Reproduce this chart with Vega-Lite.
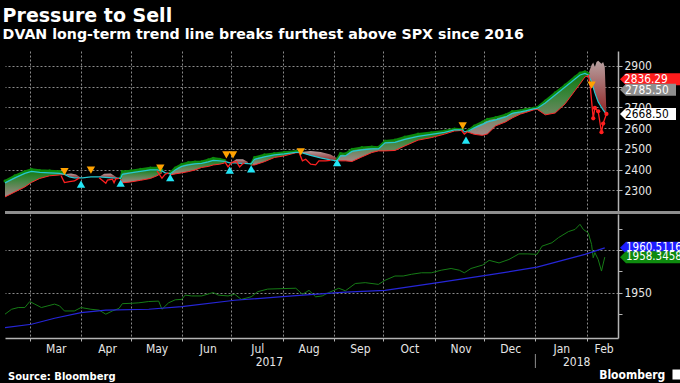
{
  "$schema": "https://vega.github.io/schema/vega-lite/v6.json",
  "background": "#000000",
  "padding": {"left": 0, "top": 6, "right": 0, "bottom": 0},
  "title": {
    "text": "Pressure to Sell",
    "subtitle": "DVAN long-term trend line breaks furthest above SPX since 2016",
    "anchor": "start", "dx": 2, "offset": 9,
    "font": "DejaVu Sans", "fontSize": 19, "fontWeight": "bold", "color": "#ffffff",
    "subtitleFont": "DejaVu Sans", "subtitleFontSize": 14.2, "subtitleFontWeight": "bold", "subtitleColor": "#ffffff",
    "subtitlePadding": 2
  },
  "datasets": {
    "bands": [
      {"date":"2017-02-14","seg":"b1","kind":"bull","hi":2345,"lo":2268},
      {"date":"2017-02-20","seg":"b1","kind":"bull","hi":2370,"lo":2292},
      {"date":"2017-02-26","seg":"b1","kind":"bull","hi":2391,"lo":2316},
      {"date":"2017-03-02","seg":"b1","kind":"bull","hi":2401,"lo":2338},
      {"date":"2017-03-07","seg":"b1","kind":"bull","hi":2396,"lo":2357},
      {"date":"2017-03-13","seg":"b1","kind":"bull","hi":2394,"lo":2370},
      {"date":"2017-03-19","seg":"b1","kind":"bull","hi":2391,"lo":2374},
      {"date":"2017-03-22","seg":"b1","kind":"bull","hi":2381,"lo":2376},
      {"date":"2017-03-23","seg":"r1","kind":"bear","hi":2378,"lo":2376},
      {"date":"2017-03-26","seg":"r1","kind":"bear","hi":2381,"lo":2362},
      {"date":"2017-03-29","seg":"r1","kind":"bear","hi":2376,"lo":2359},
      {"date":"2017-04-01","seg":"r1","kind":"bear","hi":2361,"lo":2359},
      {"date":"2017-04-12","seg":"r2","kind":"bear","hi":2365,"lo":2364},
      {"date":"2017-04-15","seg":"r2","kind":"bear","hi":2380,"lo":2363},
      {"date":"2017-04-19","seg":"r2","kind":"bear","hi":2381,"lo":2360},
      {"date":"2017-04-23","seg":"r2","kind":"bear","hi":2360,"lo":2358},
      {"date":"2017-04-25","seg":"b2","kind":"bull","hi":2360,"lo":2355},
      {"date":"2017-04-26","seg":"b2","kind":"bull","hi":2391,"lo":2336},
      {"date":"2017-05-01","seg":"b2","kind":"bull","hi":2394,"lo":2340},
      {"date":"2017-05-07","seg":"b2","kind":"bull","hi":2401,"lo":2348},
      {"date":"2017-05-13","seg":"b2","kind":"bull","hi":2408,"lo":2357},
      {"date":"2017-05-17","seg":"b2","kind":"bull","hi":2408,"lo":2370},
      {"date":"2017-05-20","seg":"b2","kind":"bull","hi":2398,"lo":2384},
      {"date":"2017-05-25","seg":"b3","kind":"bull","hi":2384,"lo":2374},
      {"date":"2017-05-28","seg":"b3","kind":"bull","hi":2408,"lo":2379},
      {"date":"2017-06-01","seg":"b3","kind":"bull","hi":2426,"lo":2384},
      {"date":"2017-06-05","seg":"b3","kind":"bull","hi":2434,"lo":2390},
      {"date":"2017-06-09","seg":"b3","kind":"bull","hi":2437,"lo":2398},
      {"date":"2017-06-13","seg":"b3","kind":"bull","hi":2438,"lo":2410},
      {"date":"2017-06-17","seg":"b3","kind":"bull","hi":2447,"lo":2415},
      {"date":"2017-06-20","seg":"b3","kind":"bull","hi":2455,"lo":2422},
      {"date":"2017-06-24","seg":"b3","kind":"bull","hi":2450,"lo":2426},
      {"date":"2017-06-27","seg":"b3","kind":"bull","hi":2444,"lo":2432},
      {"date":"2017-07-01","seg":"r3","kind":"bear","hi":2434,"lo":2432},
      {"date":"2017-07-04","seg":"r3","kind":"bear","hi":2450,"lo":2432},
      {"date":"2017-07-08","seg":"r3","kind":"bear","hi":2450,"lo":2430},
      {"date":"2017-07-11","seg":"r3","kind":"bear","hi":2437,"lo":2428},
      {"date":"2017-07-13","seg":"b4","kind":"bull","hi":2427,"lo":2422},
      {"date":"2017-07-15","seg":"b4","kind":"bull","hi":2458,"lo":2422},
      {"date":"2017-07-21","seg":"b4","kind":"bull","hi":2471,"lo":2438},
      {"date":"2017-07-27","seg":"b4","kind":"bull","hi":2477,"lo":2458},
      {"date":"2017-08-02","seg":"b4","kind":"bull","hi":2483,"lo":2466},
      {"date":"2017-08-09","seg":"b4","kind":"bull","hi":2488,"lo":2481},
      {"date":"2017-08-12","seg":"b4","kind":"bull","hi":2485,"lo":2482},
      {"date":"2017-08-12","seg":"r4","kind":"bear","hi":2485,"lo":2482},
      {"date":"2017-08-18","seg":"r4","kind":"bear","hi":2490,"lo":2468},
      {"date":"2017-08-24","seg":"r4","kind":"bear","hi":2485,"lo":2456},
      {"date":"2017-08-30","seg":"r4","kind":"bear","hi":2473,"lo":2447},
      {"date":"2017-09-03","seg":"r4","kind":"bear","hi":2455,"lo":2442},
      {"date":"2017-09-03","seg":"b5","kind":"bull","hi":2451,"lo":2442},
      {"date":"2017-09-05","seg":"b5","kind":"bull","hi":2478,"lo":2442},
      {"date":"2017-09-08","seg":"b5","kind":"bull","hi":2476,"lo":2442},
      {"date":"2017-09-12","seg":"b5","kind":"bull","hi":2498,"lo":2439},
      {"date":"2017-09-18","seg":"b5","kind":"bull","hi":2506,"lo":2461},
      {"date":"2017-09-24","seg":"b5","kind":"bull","hi":2509,"lo":2482},
      {"date":"2017-09-28","seg":"b5","kind":"bull","hi":2507,"lo":2490},
      {"date":"2017-10-02","seg":"b5","kind":"bull","hi":2538,"lo":2490},
      {"date":"2017-10-08","seg":"b5","kind":"bull","hi":2542,"lo":2492},
      {"date":"2017-10-14","seg":"b5","kind":"bull","hi":2557,"lo":2514},
      {"date":"2017-10-22","seg":"b5","kind":"bull","hi":2571,"lo":2542},
      {"date":"2017-10-30","seg":"b5","kind":"bull","hi":2578,"lo":2554},
      {"date":"2017-11-07","seg":"b5","kind":"bull","hi":2586,"lo":2571},
      {"date":"2017-11-13","seg":"b5","kind":"bull","hi":2596,"lo":2586},
      {"date":"2017-11-18","seg":"b5","kind":"bull","hi":2594,"lo":2589},
      {"date":"2017-11-21","seg":"b6","kind":"bull","hi":2586,"lo":2581},
      {"date":"2017-11-25","seg":"b6","kind":"bull","hi":2610,"lo":2570},
      {"date":"2017-11-30","seg":"b6","kind":"bull","hi":2630,"lo":2565},
      {"date":"2017-12-03","seg":"b6","kind":"bull","hi":2643,"lo":2572},
      {"date":"2017-12-08","seg":"b6","kind":"bull","hi":2651,"lo":2611},
      {"date":"2017-12-14","seg":"b6","kind":"bull","hi":2664,"lo":2630},
      {"date":"2017-12-18","seg":"b6","kind":"bull","hi":2680,"lo":2649},
      {"date":"2017-12-23","seg":"b6","kind":"bull","hi":2685,"lo":2668},
      {"date":"2017-12-26","seg":"b6","kind":"bull","hi":2691,"lo":2675},
      {"date":"2017-12-31","seg":"b6","kind":"bull","hi":2697,"lo":2688},
      {"date":"2018-01-02","seg":"b6","kind":"bull","hi":2699,"lo":2691},
      {"date":"2018-01-07","seg":"b6","kind":"bull","hi":2731,"lo":2664},
      {"date":"2018-01-13","seg":"b6","kind":"bull","hi":2770,"lo":2673},
      {"date":"2018-01-19","seg":"b6","kind":"bull","hi":2808,"lo":2717},
      {"date":"2018-01-25","seg":"b6","kind":"bull","hi":2847,"lo":2781},
      {"date":"2018-01-28","seg":"b6","kind":"bull","hi":2866,"lo":2813},
      {"date":"2018-01-31","seg":"b6","kind":"bull","hi":2872,"lo":2847},
      {"date":"2018-02-02","seg":"b6","kind":"bull","hi":2864,"lo":2852},
      {"date":"2018-02-02","seg":"r5","kind":"bear","hi":2860,"lo":2857},
      {"date":"2018-02-04","seg":"r5","kind":"bear","hi":2905,"lo":2823},
      {"date":"2018-02-05","seg":"r5","kind":"bear","hi":2917,"lo":2794},
      {"date":"2018-02-06","seg":"r5","kind":"bear","hi":2895,"lo":2770},
      {"date":"2018-02-07","seg":"r5","kind":"bear","hi":2919,"lo":2746},
      {"date":"2018-02-08","seg":"r5","kind":"bear","hi":2925,"lo":2727},
      {"date":"2018-02-10","seg":"r5","kind":"bear","hi":2910,"lo":2707},
      {"date":"2018-02-11","seg":"r5","kind":"bear","hi":2919,"lo":2688},
      {"date":"2018-02-12","seg":"r5","kind":"bear","hi":2895,"lo":2674},
      {"date":"2018-02-13","seg":"r5","kind":"bear","hi":2670,"lo":2666}
    ],
    "cyan": [
      {"date":"2017-02-14","v":2335.6},{"date":"2017-02-20","v":2359.7},{"date":"2017-02-26","v":2381.4},
      {"date":"2017-03-02","v":2391},{"date":"2017-03-07","v":2386.3},{"date":"2017-03-13","v":2383.9},
      {"date":"2017-03-19","v":2381.4},{"date":"2017-03-22","v":2376.6},{"date":"2017-03-25","v":2364.6},
      {"date":"2017-03-28","v":2359.7},{"date":"2017-04-02","v":2359.7},{"date":"2017-04-07","v":2364.6},
      {"date":"2017-04-12","v":2364.6},{"date":"2017-04-16","v":2362.2},{"date":"2017-04-20","v":2359.7},
      {"date":"2017-04-25","v":2357.4},{"date":"2017-04-26","v":2376.6},{"date":"2017-05-01","v":2383.9},
      {"date":"2017-05-07","v":2391},{"date":"2017-05-13","v":2398.3},{"date":"2017-05-17","v":2398.3},
      {"date":"2017-05-20","v":2393.5},{"date":"2017-05-22","v":2383.9},{"date":"2017-05-25","v":2379},
      {"date":"2017-05-28","v":2398.3},{"date":"2017-06-01","v":2415.2},{"date":"2017-06-05","v":2422.5},
      {"date":"2017-06-09","v":2427.3},{"date":"2017-06-13","v":2429.7},{"date":"2017-06-17","v":2437},
      {"date":"2017-06-20","v":2444.2},{"date":"2017-06-24","v":2441.8},{"date":"2017-06-27","v":2439.4},
      {"date":"2017-06-30","v":2432.1},{"date":"2017-07-03","v":2432.1},{"date":"2017-07-07","v":2429.7},
      {"date":"2017-07-09","v":2429.7},{"date":"2017-07-13","v":2427.3},{"date":"2017-07-15","v":2449},
      {"date":"2017-07-21","v":2461.1},{"date":"2017-07-27","v":2470.7},{"date":"2017-08-02","v":2475.6},
      {"date":"2017-08-09","v":2482.8},{"date":"2017-08-12","v":2482.8},{"date":"2017-08-18","v":2468.3},
      {"date":"2017-08-24","v":2456.2},{"date":"2017-08-30","v":2446.6},{"date":"2017-09-03","v":2441.8},
      {"date":"2017-09-05","v":2465.9},{"date":"2017-09-08","v":2465.9},{"date":"2017-09-12","v":2487.6},
      {"date":"2017-09-18","v":2494.8},{"date":"2017-09-24","v":2499.6},{"date":"2017-09-28","v":2499.6},
      {"date":"2017-10-02","v":2528.6},{"date":"2017-10-08","v":2531},{"date":"2017-10-14","v":2545.5},
      {"date":"2017-10-22","v":2560},{"date":"2017-10-30","v":2569.6},{"date":"2017-11-07","v":2579.2},
      {"date":"2017-11-13","v":2591.3},{"date":"2017-11-18","v":2591.3},{"date":"2017-11-19","v":2581.6},
      {"date":"2017-11-21","v":2584},{"date":"2017-11-25","v":2600.9},{"date":"2017-11-30","v":2617.8},
      {"date":"2017-12-03","v":2629.9},{"date":"2017-12-08","v":2639.5},{"date":"2017-12-14","v":2654},
      {"date":"2017-12-18","v":2670.9},{"date":"2017-12-23","v":2678.1},{"date":"2017-12-26","v":2683},
      {"date":"2017-12-31","v":2692.6},{"date":"2018-01-02","v":2695},{"date":"2018-01-07","v":2721.5},
      {"date":"2018-01-13","v":2760.1},{"date":"2018-01-19","v":2798.7},{"date":"2018-01-25","v":2837.3},
      {"date":"2018-01-28","v":2856.6},{"date":"2018-01-31","v":2863.8},{"date":"2018-02-02","v":2856.6},
      {"date":"2018-02-04","v":2822.8},{"date":"2018-02-06","v":2769.8},{"date":"2018-02-08","v":2726.4},
      {"date":"2018-02-11","v":2687.8},{"date":"2018-02-13","v":2666}
    ],
    "dips": [
      {"date":"2017-03-20","seg":"d1","v":2369.6},{"date":"2017-03-21","seg":"d1","v":2353.5},
      {"date":"2017-03-22","seg":"d1","v":2337},{"date":"2017-03-25","seg":"d1","v":2342},
      {"date":"2017-03-28","seg":"d1","v":2345},{"date":"2017-03-30","seg":"d1","v":2355},
      {"date":"2017-03-31","seg":"d1","v":2360},
      {"date":"2017-04-12","seg":"d2","v":2360},{"date":"2017-04-16","seg":"d2","v":2334},
      {"date":"2017-04-17","seg":"d2","v":2349},{"date":"2017-04-20","seg":"d2","v":2353.5},
      {"date":"2017-04-21","seg":"d2","v":2337},{"date":"2017-04-22","seg":"d2","v":2355},
      {"date":"2017-04-24","seg":"d2","v":2357},
      {"date":"2017-05-17","seg":"d3","v":2393.5},{"date":"2017-05-20","seg":"d3","v":2358},
      {"date":"2017-05-22","seg":"d3","v":2377.6},{"date":"2017-05-24","seg":"d3","v":2384},
      {"date":"2017-06-27","seg":"d4","v":2438},{"date":"2017-06-29","seg":"d4","v":2412.8},
      {"date":"2017-07-01","seg":"d4","v":2433.6},{"date":"2017-07-04","seg":"d4","v":2438},
      {"date":"2017-07-06","seg":"d4","v":2412.8},{"date":"2017-07-08","seg":"d4","v":2428.8},
      {"date":"2017-07-09","seg":"d4","v":2430},
      {"date":"2017-08-11","seg":"d5","v":2482},{"date":"2017-08-13","seg":"d5","v":2442},
      {"date":"2017-08-15","seg":"d5","v":2450},{"date":"2017-08-18","seg":"d5","v":2426},
      {"date":"2017-08-21","seg":"d5","v":2422.5},{"date":"2017-08-23","seg":"d5","v":2442},
      {"date":"2017-08-27","seg":"d5","v":2442},{"date":"2017-08-30","seg":"d5","v":2444},
      {"date":"2017-11-17","seg":"d6","v":2591},{"date":"2017-11-19","seg":"d6","v":2570.6},
      {"date":"2017-11-21","seg":"d6","v":2584},
      {"date":"2018-02-02","seg":"d7","v":2856.6},{"date":"2018-02-03","seg":"d7","v":2819.5},
      {"date":"2018-02-05","seg":"d7","v":2647},{"date":"2018-02-06","seg":"d7","v":2697},
      {"date":"2018-02-08","seg":"d7","v":2681},{"date":"2018-02-10","seg":"d7","v":2580},
      {"date":"2018-02-11","seg":"d7","v":2622},{"date":"2018-02-13","seg":"d7","v":2668.5}
    ],
    "signals": [
      {"date":"2017-03-22","type":"sell","v":2390},
      {"date":"2017-04-07","type":"sell","v":2397},
      {"date":"2017-05-19","type":"sell","v":2406.6},
      {"date":"2017-06-28","type":"sell","v":2470.7},
      {"date":"2017-07-02","type":"sell","v":2470.7},
      {"date":"2017-08-12","type":"sell","v":2485},
      {"date":"2017-11-18","type":"sell","v":2610.6},
      {"date":"2018-02-04","type":"sell","v":2807},
      {"date":"2017-04-01","type":"buy","v":2329.4},
      {"date":"2017-04-25","type":"buy","v":2334.2},
      {"date":"2017-05-25","type":"buy","v":2361},
      {"date":"2017-06-30","type":"buy","v":2397},
      {"date":"2017-07-13","type":"buy","v":2403},
      {"date":"2017-09-03","type":"buy","v":2433.6},
      {"date":"2017-11-20","type":"buy","v":2541.6}
    ],
    "dvan": [
      {"date":"2017-02-14","v":1945.05},{"date":"2017-02-18","v":1946.2},{"date":"2017-02-22","v":1946.6},
      {"date":"2017-02-26","v":1946.6},{"date":"2017-03-01","v":1948.0},{"date":"2017-03-04","v":1947.4},
      {"date":"2017-03-08","v":1946.6},{"date":"2017-03-12","v":1947.0},{"date":"2017-03-16","v":1947.4},
      {"date":"2017-03-19","v":1947.0},{"date":"2017-03-22","v":1945.8},{"date":"2017-03-28","v":1945.8},
      {"date":"2017-04-01","v":1946.6},{"date":"2017-04-07","v":1946.2},{"date":"2017-04-12","v":1946.0},
      {"date":"2017-04-16","v":1945.05},{"date":"2017-04-20","v":1945.8},{"date":"2017-04-24","v":1946.4},
      {"date":"2017-04-26","v":1947.5},{"date":"2017-05-02","v":1947.6},{"date":"2017-05-06","v":1947.7},
      {"date":"2017-05-12","v":1948.0},{"date":"2017-05-18","v":1948.1},{"date":"2017-05-20","v":1946.2},
      {"date":"2017-05-24","v":1947.7},{"date":"2017-05-28","v":1948.4},{"date":"2017-06-01","v":1948.5},
      {"date":"2017-06-03","v":1949.5},{"date":"2017-06-07","v":1949.3},{"date":"2017-06-13","v":1949.3},
      {"date":"2017-06-20","v":1950.1},{"date":"2017-06-23","v":1949.5},{"date":"2017-06-29","v":1949.3},
      {"date":"2017-07-03","v":1949.7},{"date":"2017-07-07","v":1948.5},{"date":"2017-07-13","v":1949.1},
      {"date":"2017-07-17","v":1950.3},{"date":"2017-07-23","v":1950.9},{"date":"2017-07-31","v":1951.0},
      {"date":"2017-08-09","v":1951.1},{"date":"2017-08-13","v":1949.7},{"date":"2017-08-17","v":1950.6},
      {"date":"2017-08-21","v":1949.1},{"date":"2017-08-25","v":1949.3},{"date":"2017-08-29","v":1950.1},
      {"date":"2017-09-04","v":1951.1},{"date":"2017-09-08","v":1950.5},{"date":"2017-09-14","v":1952.2},
      {"date":"2017-09-20","v":1952.4},{"date":"2017-09-28","v":1952.0},{"date":"2017-10-02","v":1952.95},
      {"date":"2017-10-08","v":1953.95},{"date":"2017-10-13","v":1953.95},{"date":"2017-10-18","v":1954.35},
      {"date":"2017-10-24","v":1954.7},{"date":"2017-10-30","v":1954.7},{"date":"2017-11-05","v":1955.3},
      {"date":"2017-11-11","v":1955.7},{"date":"2017-11-16","v":1955.3},{"date":"2017-11-19","v":1954.7},
      {"date":"2017-11-23","v":1955.7},{"date":"2017-11-30","v":1956.5},{"date":"2017-12-04","v":1957.6},
      {"date":"2017-12-10","v":1957.0},{"date":"2017-12-16","v":1957.8},{"date":"2017-12-22","v":1959.1},
      {"date":"2017-12-27","v":1959.1},{"date":"2018-01-02","v":1959.0},{"date":"2018-01-05","v":1960.9},
      {"date":"2018-01-11","v":1961.7},{"date":"2018-01-15","v":1962.9},{"date":"2018-01-21","v":1964.3},
      {"date":"2018-01-25","v":1964.8},{"date":"2018-01-28","v":1966.0},{"date":"2018-01-30","v":1964.8},
      {"date":"2018-02-02","v":1964.0},{"date":"2018-02-04","v":1961.3},{"date":"2018-02-05","v":1958.2},
      {"date":"2018-02-06","v":1959.4},{"date":"2018-02-08","v":1957.8},{"date":"2018-02-10","v":1955.1},
      {"date":"2018-02-12","v":1958.35}
    ],
    "trend": [
      {"date":"2017-02-14","v":1941.9},{"date":"2017-03-02","v":1942.7},{"date":"2017-03-16","v":1944.1},
      {"date":"2017-04-01","v":1945.4},{"date":"2017-04-16","v":1946.0},{"date":"2017-05-12","v":1946.2},
      {"date":"2017-06-01","v":1946.8},{"date":"2017-07-03","v":1948.3},{"date":"2017-08-07","v":1949.3},
      {"date":"2017-09-08","v":1950.2},{"date":"2017-10-02","v":1950.6},{"date":"2017-11-03","v":1952.4},
      {"date":"2017-12-04","v":1954.2},{"date":"2018-01-02","v":1956.0},{"date":"2018-01-31","v":1959.0},
      {"date":"2018-02-12","v":1960.51}
    ],
    "tagsTop": [
      {"label":"2836.29","v":2836.29,"kind":"red"},
      {"label":"2785.50","v":2785.5,"kind":"gray"},
      {"label":"2668.50","v":2668.5,"kind":"white"}
    ],
    "tagsBottom": [
      {"label":"1960.5116","v":1960.5116,"kind":"blue"},
      {"label":"1958.3458","v":1958.3458,"kind":"green"}
    ]
  },
  "spacing": 3,
  "bounds": "flush",
  "vconcat": [
    {
      "width": 613,
      "height": 160,
      "layer": [
        {
          "data": {"name": "bands"},
          "transform": [{"filter": "datum.kind == 'bull'"}],
          "mark": {"type": "area", "opacity": 1, "color": {"gradient": "linear", "x1": 0, "y1": 0, "x2": 0, "y2": 1, "stops": [{"offset": 0, "color": "#0c780c"}, {"offset": 0.4, "color": "#3f863f"}, {"offset": 1, "color": "#a48888"}]}},
          "encoding": {
            "x": {"field": "date", "type": "temporal", "scale": {"type": "utc", "domain": [{"year": 2017, "month": 2, "date": 14, "utc": true}, {"year": 2018, "month": 2, "date": 20, "utc": true}]}, "axis": {"title": null, "orient": "bottom", "grid": true, "labels": false, "ticks": false, "domain": false, "values": [{"year":2017,"month":3,"date":1,"utc":true},{"year":2017,"month":4,"date":1,"utc":true},{"year":2017,"month":5,"date":1,"utc":true},{"year":2017,"month":6,"date":1,"utc":true},{"year":2017,"month":7,"date":1,"utc":true},{"year":2017,"month":8,"date":1,"utc":true},{"year":2017,"month":9,"date":1,"utc":true},{"year":2017,"month":10,"date":1,"utc":true},{"year":2017,"month":11,"date":1,"utc":true},{"year":2017,"month":12,"date":1,"utc":true},{"year":2018,"month":1,"date":1,"utc":true},{"year":2018,"month":2,"date":1,"utc":true}]}},
            "y": {"field": "hi", "type": "quantitative", "scale": {"domain": [2200, 2972], "zero": false, "nice": false}, "axis": {"title": null, "orient": "right", "values": [2200, 2300, 2400, 2500, 2600, 2700, 2800, 2900], "format": "d", "labelExpr": "datum.value == 2200 ? '' : datum.label", "labelOverlap": false, "labelBound": false, "tickSize": 4, "labelPadding": 2, "grid": true, "domain": true, "ticks": true}},
            "y2": {"field": "lo"},
            "detail": {"field": "seg"}
          }
        },
        {
          "data": {"name": "bands"},
          "transform": [{"filter": "datum.kind == 'bear'"}],
          "mark": {"type": "area", "opacity": 1, "color": {"gradient": "linear", "x1": 0, "y1": 0, "x2": 0, "y2": 1, "stops": [{"offset": 0, "color": "#b8a2a2"}, {"offset": 1, "color": "#8e2222"}]}},
          "encoding": {
            "x": {"field": "date", "type": "temporal", "scale": {"type": "utc", "domain": [{"year": 2017, "month": 2, "date": 14, "utc": true}, {"year": 2018, "month": 2, "date": 20, "utc": true}]}, "axis": {"title": null, "orient": "bottom", "grid": true, "labels": false, "ticks": false, "domain": false, "values": [{"year":2017,"month":3,"date":1,"utc":true},{"year":2017,"month":4,"date":1,"utc":true},{"year":2017,"month":5,"date":1,"utc":true},{"year":2017,"month":6,"date":1,"utc":true},{"year":2017,"month":7,"date":1,"utc":true},{"year":2017,"month":8,"date":1,"utc":true},{"year":2017,"month":9,"date":1,"utc":true},{"year":2017,"month":10,"date":1,"utc":true},{"year":2017,"month":11,"date":1,"utc":true},{"year":2017,"month":12,"date":1,"utc":true},{"year":2018,"month":1,"date":1,"utc":true},{"year":2018,"month":2,"date":1,"utc":true}]}},
            "y": {"field": "hi", "type": "quantitative", "scale": {"domain": [2200, 2972], "zero": false, "nice": false}, "axis": {"title": null, "orient": "right", "values": [2200, 2300, 2400, 2500, 2600, 2700, 2800, 2900], "format": "d", "labelExpr": "datum.value == 2200 ? '' : datum.label", "labelOverlap": false, "labelBound": false, "tickSize": 4, "labelPadding": 2, "grid": true, "domain": true, "ticks": true}},
            "y2": {"field": "lo"},
            "detail": {"field": "seg"}
          }
        },
        {
          "data": {"name": "bands"},
          "transform": [{"filter": "datum.kind == 'bull'"}],
          "mark": {"type": "line", "color": "#0b880b", "strokeWidth": 2.2, "point": {"filled": true, "size": 9, "color": "#0b880b"}},
          "encoding": {
            "x": {"field": "date", "type": "temporal", "scale": {"type": "utc", "domain": [{"year": 2017, "month": 2, "date": 14, "utc": true}, {"year": 2018, "month": 2, "date": 20, "utc": true}]}, "axis": {"title": null, "orient": "bottom", "grid": true, "labels": false, "ticks": false, "domain": false, "values": [{"year":2017,"month":3,"date":1,"utc":true},{"year":2017,"month":4,"date":1,"utc":true},{"year":2017,"month":5,"date":1,"utc":true},{"year":2017,"month":6,"date":1,"utc":true},{"year":2017,"month":7,"date":1,"utc":true},{"year":2017,"month":8,"date":1,"utc":true},{"year":2017,"month":9,"date":1,"utc":true},{"year":2017,"month":10,"date":1,"utc":true},{"year":2017,"month":11,"date":1,"utc":true},{"year":2017,"month":12,"date":1,"utc":true},{"year":2018,"month":1,"date":1,"utc":true},{"year":2018,"month":2,"date":1,"utc":true}]}},
            "y": {"field": "hi", "type": "quantitative", "scale": {"domain": [2200, 2972], "zero": false, "nice": false}, "axis": {"title": null, "orient": "right", "values": [2200, 2300, 2400, 2500, 2600, 2700, 2800, 2900], "format": "d", "labelExpr": "datum.value == 2200 ? '' : datum.label", "labelOverlap": false, "labelBound": false, "tickSize": 4, "labelPadding": 2, "grid": true, "domain": true, "ticks": true}},
            "detail": {"field": "seg"}
          }
        },
        {
          "data": {"name": "bands"},
          "transform": [{"filter": "datum.kind == 'bull'"}],
          "mark": {"type": "line", "color": "#ff2a2a", "strokeWidth": 1},
          "encoding": {
            "x": {"field": "date", "type": "temporal", "scale": {"type": "utc", "domain": [{"year": 2017, "month": 2, "date": 14, "utc": true}, {"year": 2018, "month": 2, "date": 20, "utc": true}]}, "axis": {"title": null, "orient": "bottom", "grid": true, "labels": false, "ticks": false, "domain": false, "values": [{"year":2017,"month":3,"date":1,"utc":true},{"year":2017,"month":4,"date":1,"utc":true},{"year":2017,"month":5,"date":1,"utc":true},{"year":2017,"month":6,"date":1,"utc":true},{"year":2017,"month":7,"date":1,"utc":true},{"year":2017,"month":8,"date":1,"utc":true},{"year":2017,"month":9,"date":1,"utc":true},{"year":2017,"month":10,"date":1,"utc":true},{"year":2017,"month":11,"date":1,"utc":true},{"year":2017,"month":12,"date":1,"utc":true},{"year":2018,"month":1,"date":1,"utc":true},{"year":2018,"month":2,"date":1,"utc":true}]}},
            "y": {"field": "lo", "type": "quantitative", "scale": {"domain": [2200, 2972], "zero": false, "nice": false}, "axis": {"title": null, "orient": "right", "values": [2200, 2300, 2400, 2500, 2600, 2700, 2800, 2900], "format": "d", "labelExpr": "datum.value == 2200 ? '' : datum.label", "labelOverlap": false, "labelBound": false, "tickSize": 4, "labelPadding": 2, "grid": true, "domain": true, "ticks": true}},
            "detail": {"field": "seg"}
          }
        },
        {
          "data": {"name": "cyan"},
          "mark": {"type": "line", "color": "#26c8d2", "strokeWidth": 1.2},
          "encoding": {
            "x": {"field": "date", "type": "temporal", "scale": {"type": "utc", "domain": [{"year": 2017, "month": 2, "date": 14, "utc": true}, {"year": 2018, "month": 2, "date": 20, "utc": true}]}, "axis": {"title": null, "orient": "bottom", "grid": true, "labels": false, "ticks": false, "domain": false, "values": [{"year":2017,"month":3,"date":1,"utc":true},{"year":2017,"month":4,"date":1,"utc":true},{"year":2017,"month":5,"date":1,"utc":true},{"year":2017,"month":6,"date":1,"utc":true},{"year":2017,"month":7,"date":1,"utc":true},{"year":2017,"month":8,"date":1,"utc":true},{"year":2017,"month":9,"date":1,"utc":true},{"year":2017,"month":10,"date":1,"utc":true},{"year":2017,"month":11,"date":1,"utc":true},{"year":2017,"month":12,"date":1,"utc":true},{"year":2018,"month":1,"date":1,"utc":true},{"year":2018,"month":2,"date":1,"utc":true}]}},
            "y": {"field": "v", "type": "quantitative", "scale": {"domain": [2200, 2972], "zero": false, "nice": false}, "axis": {"title": null, "orient": "right", "values": [2200, 2300, 2400, 2500, 2600, 2700, 2800, 2900], "format": "d", "labelExpr": "datum.value == 2200 ? '' : datum.label", "labelOverlap": false, "labelBound": false, "tickSize": 4, "labelPadding": 2, "grid": true, "domain": true, "ticks": true}}
          }
        },
        {
          "data": {"name": "dips"},
          "mark": {"type": "line", "color": "#ff2020", "strokeWidth": 1.3},
          "encoding": {
            "x": {"field": "date", "type": "temporal", "scale": {"type": "utc", "domain": [{"year": 2017, "month": 2, "date": 14, "utc": true}, {"year": 2018, "month": 2, "date": 20, "utc": true}]}, "axis": {"title": null, "orient": "bottom", "grid": true, "labels": false, "ticks": false, "domain": false, "values": [{"year":2017,"month":3,"date":1,"utc":true},{"year":2017,"month":4,"date":1,"utc":true},{"year":2017,"month":5,"date":1,"utc":true},{"year":2017,"month":6,"date":1,"utc":true},{"year":2017,"month":7,"date":1,"utc":true},{"year":2017,"month":8,"date":1,"utc":true},{"year":2017,"month":9,"date":1,"utc":true},{"year":2017,"month":10,"date":1,"utc":true},{"year":2017,"month":11,"date":1,"utc":true},{"year":2017,"month":12,"date":1,"utc":true},{"year":2018,"month":1,"date":1,"utc":true},{"year":2018,"month":2,"date":1,"utc":true}]}},
            "y": {"field": "v", "type": "quantitative", "scale": {"domain": [2200, 2972], "zero": false, "nice": false}, "axis": {"title": null, "orient": "right", "values": [2200, 2300, 2400, 2500, 2600, 2700, 2800, 2900], "format": "d", "labelExpr": "datum.value == 2200 ? '' : datum.label", "labelOverlap": false, "labelBound": false, "tickSize": 4, "labelPadding": 2, "grid": true, "domain": true, "ticks": true}},
            "detail": {"field": "seg"}
          }
        },
        {
          "data": {"name": "dips"},
          "transform": [{"filter": "datum.seg == 'd7' && datum.v < 2800"}],
          "mark": {"type": "point", "filled": true, "size": 18, "opacity": 1, "color": "#ff2020"},
          "encoding": {
            "x": {"field": "date", "type": "temporal", "scale": {"type": "utc", "domain": [{"year": 2017, "month": 2, "date": 14, "utc": true}, {"year": 2018, "month": 2, "date": 20, "utc": true}]}, "axis": {"title": null, "orient": "bottom", "grid": true, "labels": false, "ticks": false, "domain": false, "values": [{"year":2017,"month":3,"date":1,"utc":true},{"year":2017,"month":4,"date":1,"utc":true},{"year":2017,"month":5,"date":1,"utc":true},{"year":2017,"month":6,"date":1,"utc":true},{"year":2017,"month":7,"date":1,"utc":true},{"year":2017,"month":8,"date":1,"utc":true},{"year":2017,"month":9,"date":1,"utc":true},{"year":2017,"month":10,"date":1,"utc":true},{"year":2017,"month":11,"date":1,"utc":true},{"year":2017,"month":12,"date":1,"utc":true},{"year":2018,"month":1,"date":1,"utc":true},{"year":2018,"month":2,"date":1,"utc":true}]}},
            "y": {"field": "v", "type": "quantitative", "scale": {"domain": [2200, 2972], "zero": false, "nice": false}, "axis": {"title": null, "orient": "right", "values": [2200, 2300, 2400, 2500, 2600, 2700, 2800, 2900], "format": "d", "labelExpr": "datum.value == 2200 ? '' : datum.label", "labelOverlap": false, "labelBound": false, "tickSize": 4, "labelPadding": 2, "grid": true, "domain": true, "ticks": true}}
          }
        },
        {
          "data": {"name": "signals"},
          "mark": {"type": "point", "filled": true, "size": 70, "opacity": 1},
          "encoding": {
            "x": {"field": "date", "type": "temporal", "scale": {"type": "utc", "domain": [{"year": 2017, "month": 2, "date": 14, "utc": true}, {"year": 2018, "month": 2, "date": 20, "utc": true}]}, "axis": {"title": null, "orient": "bottom", "grid": true, "labels": false, "ticks": false, "domain": false, "values": [{"year":2017,"month":3,"date":1,"utc":true},{"year":2017,"month":4,"date":1,"utc":true},{"year":2017,"month":5,"date":1,"utc":true},{"year":2017,"month":6,"date":1,"utc":true},{"year":2017,"month":7,"date":1,"utc":true},{"year":2017,"month":8,"date":1,"utc":true},{"year":2017,"month":9,"date":1,"utc":true},{"year":2017,"month":10,"date":1,"utc":true},{"year":2017,"month":11,"date":1,"utc":true},{"year":2017,"month":12,"date":1,"utc":true},{"year":2018,"month":1,"date":1,"utc":true},{"year":2018,"month":2,"date":1,"utc":true}]}},
            "y": {"field": "v", "type": "quantitative", "scale": {"domain": [2200, 2972], "zero": false, "nice": false}, "axis": {"title": null, "orient": "right", "values": [2200, 2300, 2400, 2500, 2600, 2700, 2800, 2900], "format": "d", "labelExpr": "datum.value == 2200 ? '' : datum.label", "labelOverlap": false, "labelBound": false, "tickSize": 4, "labelPadding": 2, "grid": true, "domain": true, "ticks": true}},
            "shape": {"condition": {"test": "datum.type == 'sell'", "value": "triangle-down"}, "value": "triangle-up"},
            "color": {"condition": {"test": "datum.type == 'sell'", "value": "#ffa200"}, "value": "#22e6f6"}
          }
        },
        {
          "data": {"name": "tagsTop"},
          "transform": [{"filter": "datum.kind == 'red'"}],
          "mark": {"type": "point", "filled": true, "opacity": 1, "size": 5184, "xOffset": 38, "color": "#ff1c1c", "shape": "M-1,0L-0.833,-0.1667L1,-0.1667L1,0.1667L-0.833,0.1667Z"},
          "encoding": {
            "x": {"datum": {"year": 2018, "month": 2, "date": 20, "utc": true}, "type": "temporal", "scale": {"type": "utc", "domain": [{"year": 2017, "month": 2, "date": 14, "utc": true}, {"year": 2018, "month": 2, "date": 20, "utc": true}]}, "axis": {"title": null, "orient": "bottom", "grid": true, "labels": false, "ticks": false, "domain": false, "values": [{"year":2017,"month":3,"date":1,"utc":true},{"year":2017,"month":4,"date":1,"utc":true},{"year":2017,"month":5,"date":1,"utc":true},{"year":2017,"month":6,"date":1,"utc":true},{"year":2017,"month":7,"date":1,"utc":true},{"year":2017,"month":8,"date":1,"utc":true},{"year":2017,"month":9,"date":1,"utc":true},{"year":2017,"month":10,"date":1,"utc":true},{"year":2017,"month":11,"date":1,"utc":true},{"year":2017,"month":12,"date":1,"utc":true},{"year":2018,"month":1,"date":1,"utc":true},{"year":2018,"month":2,"date":1,"utc":true}]}},
            "y": {"field": "v", "type": "quantitative", "scale": {"domain": [2200, 2972], "zero": false, "nice": false}, "axis": {"title": null, "orient": "right", "values": [2200, 2300, 2400, 2500, 2600, 2700, 2800, 2900], "format": "d", "labelExpr": "datum.value == 2200 ? '' : datum.label", "labelOverlap": false, "labelBound": false, "tickSize": 4, "labelPadding": 2, "grid": true, "domain": true, "ticks": true}}
          }
        },
        {
          "data": {"name": "tagsTop"},
          "transform": [{"filter": "datum.kind == 'red'"}],
          "mark": {"type": "text", "align": "left", "baseline": "middle", "dx": 6, "font": "DejaVu Sans Condensed", "fontSize": 11.8, "color": "#ffffff"},
          "encoding": {
            "x": {"datum": {"year": 2018, "month": 2, "date": 20, "utc": true}, "type": "temporal", "scale": {"type": "utc", "domain": [{"year": 2017, "month": 2, "date": 14, "utc": true}, {"year": 2018, "month": 2, "date": 20, "utc": true}]}, "axis": {"title": null, "orient": "bottom", "grid": true, "labels": false, "ticks": false, "domain": false, "values": [{"year":2017,"month":3,"date":1,"utc":true},{"year":2017,"month":4,"date":1,"utc":true},{"year":2017,"month":5,"date":1,"utc":true},{"year":2017,"month":6,"date":1,"utc":true},{"year":2017,"month":7,"date":1,"utc":true},{"year":2017,"month":8,"date":1,"utc":true},{"year":2017,"month":9,"date":1,"utc":true},{"year":2017,"month":10,"date":1,"utc":true},{"year":2017,"month":11,"date":1,"utc":true},{"year":2017,"month":12,"date":1,"utc":true},{"year":2018,"month":1,"date":1,"utc":true},{"year":2018,"month":2,"date":1,"utc":true}]}},
            "y": {"field": "v", "type": "quantitative", "scale": {"domain": [2200, 2972], "zero": false, "nice": false}, "axis": {"title": null, "orient": "right", "values": [2200, 2300, 2400, 2500, 2600, 2700, 2800, 2900], "format": "d", "labelExpr": "datum.value == 2200 ? '' : datum.label", "labelOverlap": false, "labelBound": false, "tickSize": 4, "labelPadding": 2, "grid": true, "domain": true, "ticks": true}},
            "text": {"field": "label"}
          }
        },
        {
          "data": {"name": "tagsTop"},
          "transform": [{"filter": "datum.kind != 'red'"}],
          "mark": {"type": "point", "filled": true, "opacity": 1, "size": 3136, "xOffset": 30, "shape": "M-1,0L-0.786,-0.2143L1,-0.2143L1,0.2143L-0.786,0.2143Z"},
          "encoding": {
            "x": {"datum": {"year": 2018, "month": 2, "date": 20, "utc": true}, "type": "temporal", "scale": {"type": "utc", "domain": [{"year": 2017, "month": 2, "date": 14, "utc": true}, {"year": 2018, "month": 2, "date": 20, "utc": true}]}, "axis": {"title": null, "orient": "bottom", "grid": true, "labels": false, "ticks": false, "domain": false, "values": [{"year":2017,"month":3,"date":1,"utc":true},{"year":2017,"month":4,"date":1,"utc":true},{"year":2017,"month":5,"date":1,"utc":true},{"year":2017,"month":6,"date":1,"utc":true},{"year":2017,"month":7,"date":1,"utc":true},{"year":2017,"month":8,"date":1,"utc":true},{"year":2017,"month":9,"date":1,"utc":true},{"year":2017,"month":10,"date":1,"utc":true},{"year":2017,"month":11,"date":1,"utc":true},{"year":2017,"month":12,"date":1,"utc":true},{"year":2018,"month":1,"date":1,"utc":true},{"year":2018,"month":2,"date":1,"utc":true}]}},
            "y": {"field": "v", "type": "quantitative", "scale": {"domain": [2200, 2972], "zero": false, "nice": false}, "axis": {"title": null, "orient": "right", "values": [2200, 2300, 2400, 2500, 2600, 2700, 2800, 2900], "format": "d", "labelExpr": "datum.value == 2200 ? '' : datum.label", "labelOverlap": false, "labelBound": false, "tickSize": 4, "labelPadding": 2, "grid": true, "domain": true, "ticks": true}},
            "color": {"condition": {"test": "datum.kind == 'gray'", "value": "#8e8e8e"}, "value": "#ffffff"}
          }
        },
        {
          "data": {"name": "tagsTop"},
          "transform": [{"filter": "datum.kind != 'red'"}],
          "mark": {"type": "text", "align": "left", "baseline": "middle", "dx": 7, "font": "DejaVu Sans Condensed", "fontSize": 11.8},
          "encoding": {
            "x": {"datum": {"year": 2018, "month": 2, "date": 20, "utc": true}, "type": "temporal", "scale": {"type": "utc", "domain": [{"year": 2017, "month": 2, "date": 14, "utc": true}, {"year": 2018, "month": 2, "date": 20, "utc": true}]}, "axis": {"title": null, "orient": "bottom", "grid": true, "labels": false, "ticks": false, "domain": false, "values": [{"year":2017,"month":3,"date":1,"utc":true},{"year":2017,"month":4,"date":1,"utc":true},{"year":2017,"month":5,"date":1,"utc":true},{"year":2017,"month":6,"date":1,"utc":true},{"year":2017,"month":7,"date":1,"utc":true},{"year":2017,"month":8,"date":1,"utc":true},{"year":2017,"month":9,"date":1,"utc":true},{"year":2017,"month":10,"date":1,"utc":true},{"year":2017,"month":11,"date":1,"utc":true},{"year":2017,"month":12,"date":1,"utc":true},{"year":2018,"month":1,"date":1,"utc":true},{"year":2018,"month":2,"date":1,"utc":true}]}},
            "y": {"field": "v", "type": "quantitative", "scale": {"domain": [2200, 2972], "zero": false, "nice": false}, "axis": {"title": null, "orient": "right", "values": [2200, 2300, 2400, 2500, 2600, 2700, 2800, 2900], "format": "d", "labelExpr": "datum.value == 2200 ? '' : datum.label", "labelOverlap": false, "labelBound": false, "tickSize": 4, "labelPadding": 2, "grid": true, "domain": true, "ticks": true}},
            "text": {"field": "label"},
            "color": {"condition": {"test": "datum.kind == 'white'", "value": "#000000"}, "value": "#ffffff"}
          }
        }
      ]
    },
    {
      "width": 613,
      "height": 124,
      "layer": [
        {
          "data": {"name": "dvan"},
          "mark": {"type": "line", "color": "#167c16", "strokeWidth": 1},
          "encoding": {
            "x": {"field": "date", "type": "temporal", "scale": {"type": "utc", "domain": [{"year": 2017, "month": 2, "date": 14, "utc": true}, {"year": 2018, "month": 2, "date": 20, "utc": true}]}, "axis": {"title": null, "orient": "bottom", "grid": true, "domain": true, "ticks": true, "labelExpr": "utcFormat(datum.value, '%b')", "tickSize": 3, "labelPadding": 2, "labelFlush": false, "labelOverlap": false, "labelBound": false, "labelOffset": {"condition": {"test": "utcmonth(datum.value) == 1", "value": 17}, "value": 26}, "values": [{"year":2017,"month":3,"date":1,"utc":true},{"year":2017,"month":4,"date":1,"utc":true},{"year":2017,"month":5,"date":1,"utc":true},{"year":2017,"month":6,"date":1,"utc":true},{"year":2017,"month":7,"date":1,"utc":true},{"year":2017,"month":8,"date":1,"utc":true},{"year":2017,"month":9,"date":1,"utc":true},{"year":2017,"month":10,"date":1,"utc":true},{"year":2017,"month":11,"date":1,"utc":true},{"year":2017,"month":12,"date":1,"utc":true},{"year":2018,"month":1,"date":1,"utc":true},{"year":2018,"month":2,"date":1,"utc":true}]}},
            "y": {"field": "v", "type": "quantitative", "scale": {"domain": [1939.5, 1968.4], "zero": false, "nice": false}, "axis": {"title": null, "orient": "right", "values": [1945, 1950, 1955, 1960, 1965], "format": "d", "labelExpr": "datum.value % 10 == 0 ? datum.label : ''", "labelOverlap": false, "labelBound": false, "tickSize": 4, "labelPadding": 2, "grid": true, "domain": true, "ticks": true, "gridOpacity": {"condition": {"test": "datum.value % 10 == 0", "value": 1}, "value": 0}}}
          }
        },
        {
          "data": {"name": "trend"},
          "mark": {"type": "line", "color": "#2626d8", "strokeWidth": 1.2},
          "encoding": {
            "x": {"field": "date", "type": "temporal", "scale": {"type": "utc", "domain": [{"year": 2017, "month": 2, "date": 14, "utc": true}, {"year": 2018, "month": 2, "date": 20, "utc": true}]}, "axis": {"title": null, "orient": "bottom", "grid": true, "domain": true, "ticks": true, "labelExpr": "utcFormat(datum.value, '%b')", "tickSize": 3, "labelPadding": 2, "labelFlush": false, "labelOverlap": false, "labelBound": false, "labelOffset": {"condition": {"test": "utcmonth(datum.value) == 1", "value": 17}, "value": 26}, "values": [{"year":2017,"month":3,"date":1,"utc":true},{"year":2017,"month":4,"date":1,"utc":true},{"year":2017,"month":5,"date":1,"utc":true},{"year":2017,"month":6,"date":1,"utc":true},{"year":2017,"month":7,"date":1,"utc":true},{"year":2017,"month":8,"date":1,"utc":true},{"year":2017,"month":9,"date":1,"utc":true},{"year":2017,"month":10,"date":1,"utc":true},{"year":2017,"month":11,"date":1,"utc":true},{"year":2017,"month":12,"date":1,"utc":true},{"year":2018,"month":1,"date":1,"utc":true},{"year":2018,"month":2,"date":1,"utc":true}]}},
            "y": {"field": "v", "type": "quantitative", "scale": {"domain": [1939.5, 1968.4], "zero": false, "nice": false}, "axis": {"title": null, "orient": "right", "values": [1945, 1950, 1955, 1960, 1965], "format": "d", "labelExpr": "datum.value % 10 == 0 ? datum.label : ''", "labelOverlap": false, "labelBound": false, "tickSize": 4, "labelPadding": 2, "grid": true, "domain": true, "ticks": true, "gridOpacity": {"condition": {"test": "datum.value % 10 == 0", "value": 1}, "value": 0}}}
          }
        },
        {
          "data": {"name": "tagsBottom"},
          "mark": {"type": "point", "filled": true, "opacity": 1, "size": 4356, "xOffset": 35, "shape": "M-1,0L-0.818,-0.1818L1,-0.1818L1,0.1818L-0.818,0.1818Z"},
          "encoding": {
            "x": {"datum": {"year": 2018, "month": 2, "date": 20, "utc": true}, "type": "temporal", "scale": {"type": "utc", "domain": [{"year": 2017, "month": 2, "date": 14, "utc": true}, {"year": 2018, "month": 2, "date": 20, "utc": true}]}, "axis": {"title": null, "orient": "bottom", "grid": true, "domain": true, "ticks": true, "labelExpr": "utcFormat(datum.value, '%b')", "tickSize": 3, "labelPadding": 2, "labelFlush": false, "labelOverlap": false, "labelBound": false, "labelOffset": {"condition": {"test": "utcmonth(datum.value) == 1", "value": 17}, "value": 26}, "values": [{"year":2017,"month":3,"date":1,"utc":true},{"year":2017,"month":4,"date":1,"utc":true},{"year":2017,"month":5,"date":1,"utc":true},{"year":2017,"month":6,"date":1,"utc":true},{"year":2017,"month":7,"date":1,"utc":true},{"year":2017,"month":8,"date":1,"utc":true},{"year":2017,"month":9,"date":1,"utc":true},{"year":2017,"month":10,"date":1,"utc":true},{"year":2017,"month":11,"date":1,"utc":true},{"year":2017,"month":12,"date":1,"utc":true},{"year":2018,"month":1,"date":1,"utc":true},{"year":2018,"month":2,"date":1,"utc":true}]}},
            "y": {"field": "v", "type": "quantitative", "scale": {"domain": [1939.5, 1968.4], "zero": false, "nice": false}, "axis": {"title": null, "orient": "right", "values": [1945, 1950, 1955, 1960, 1965], "format": "d", "labelExpr": "datum.value % 10 == 0 ? datum.label : ''", "labelOverlap": false, "labelBound": false, "tickSize": 4, "labelPadding": 2, "grid": true, "domain": true, "ticks": true, "gridOpacity": {"condition": {"test": "datum.value % 10 == 0", "value": 1}, "value": 0}}},
            "color": {"condition": {"test": "datum.kind == 'blue'", "value": "#1c1cff"}, "value": "#0e8a0e"}
          }
        },
        {
          "data": {"name": "tagsBottom"},
          "mark": {"type": "text", "align": "left", "baseline": "middle", "dx": 8, "font": "DejaVu Sans Condensed", "fontSize": 11.5, "color": "#ffffff"},
          "encoding": {
            "x": {"datum": {"year": 2018, "month": 2, "date": 20, "utc": true}, "type": "temporal", "scale": {"type": "utc", "domain": [{"year": 2017, "month": 2, "date": 14, "utc": true}, {"year": 2018, "month": 2, "date": 20, "utc": true}]}, "axis": {"title": null, "orient": "bottom", "grid": true, "domain": true, "ticks": true, "labelExpr": "utcFormat(datum.value, '%b')", "tickSize": 3, "labelPadding": 2, "labelFlush": false, "labelOverlap": false, "labelBound": false, "labelOffset": {"condition": {"test": "utcmonth(datum.value) == 1", "value": 17}, "value": 26}, "values": [{"year":2017,"month":3,"date":1,"utc":true},{"year":2017,"month":4,"date":1,"utc":true},{"year":2017,"month":5,"date":1,"utc":true},{"year":2017,"month":6,"date":1,"utc":true},{"year":2017,"month":7,"date":1,"utc":true},{"year":2017,"month":8,"date":1,"utc":true},{"year":2017,"month":9,"date":1,"utc":true},{"year":2017,"month":10,"date":1,"utc":true},{"year":2017,"month":11,"date":1,"utc":true},{"year":2017,"month":12,"date":1,"utc":true},{"year":2018,"month":1,"date":1,"utc":true},{"year":2018,"month":2,"date":1,"utc":true}]}},
            "y": {"field": "v", "type": "quantitative", "scale": {"domain": [1939.5, 1968.4], "zero": false, "nice": false}, "axis": {"title": null, "orient": "right", "values": [1945, 1950, 1955, 1960, 1965], "format": "d", "labelExpr": "datum.value % 10 == 0 ? datum.label : ''", "labelOverlap": false, "labelBound": false, "tickSize": 4, "labelPadding": 2, "grid": true, "domain": true, "ticks": true, "gridOpacity": {"condition": {"test": "datum.value % 10 == 0", "value": 1}, "value": 0}}},
            "text": {"field": "label"}
          }
        },
        {
          "data": {"values": [{}]},
          "mark": {"type": "rule", "color": "#8e8e8e", "strokeWidth": 3, "yOffset": -1.5},
          "encoding": {
            "x": {"datum": {"year": 2017, "month": 2, "date": 14, "utc": true}, "type": "temporal", "scale": {"type": "utc", "domain": [{"year": 2017, "month": 2, "date": 14, "utc": true}, {"year": 2018, "month": 2, "date": 20, "utc": true}]}, "axis": {"title": null, "orient": "bottom", "grid": true, "domain": true, "ticks": true, "labelExpr": "utcFormat(datum.value, '%b')", "tickSize": 3, "labelPadding": 2, "labelFlush": false, "labelOverlap": false, "labelBound": false, "labelOffset": {"condition": {"test": "utcmonth(datum.value) == 1", "value": 17}, "value": 26}, "values": [{"year":2017,"month":3,"date":1,"utc":true},{"year":2017,"month":4,"date":1,"utc":true},{"year":2017,"month":5,"date":1,"utc":true},{"year":2017,"month":6,"date":1,"utc":true},{"year":2017,"month":7,"date":1,"utc":true},{"year":2017,"month":8,"date":1,"utc":true},{"year":2017,"month":9,"date":1,"utc":true},{"year":2017,"month":10,"date":1,"utc":true},{"year":2017,"month":11,"date":1,"utc":true},{"year":2017,"month":12,"date":1,"utc":true},{"year":2018,"month":1,"date":1,"utc":true},{"year":2018,"month":2,"date":1,"utc":true}]}},
            "x2": {"datum": {"year": 2018, "month": 4, "date": 10, "utc": true}},
            "y": {"datum": 1968.4, "type": "quantitative", "scale": {"domain": [1939.5, 1968.4], "zero": false, "nice": false}, "axis": {"title": null, "orient": "right", "values": [1945, 1950, 1955, 1960, 1965], "format": "d", "labelExpr": "datum.value % 10 == 0 ? datum.label : ''", "labelOverlap": false, "labelBound": false, "tickSize": 4, "labelPadding": 2, "grid": true, "domain": true, "ticks": true, "gridOpacity": {"condition": {"test": "datum.value % 10 == 0", "value": 1}, "value": 0}}}
          }
        },
        {
          "data": {"values": [{}]},
          "mark": {"type": "rule", "color": "#8e8e8e", "strokeWidth": 1},
          "encoding": {
            "x": {"datum": {"year": 2018, "month": 1, "date": 1, "utc": true}, "type": "temporal", "scale": {"type": "utc", "domain": [{"year": 2017, "month": 2, "date": 14, "utc": true}, {"year": 2018, "month": 2, "date": 20, "utc": true}]}, "axis": {"title": null, "orient": "bottom", "grid": true, "domain": true, "ticks": true, "labelExpr": "utcFormat(datum.value, '%b')", "tickSize": 3, "labelPadding": 2, "labelFlush": false, "labelOverlap": false, "labelBound": false, "labelOffset": {"condition": {"test": "utcmonth(datum.value) == 1", "value": 17}, "value": 26}, "values": [{"year":2017,"month":3,"date":1,"utc":true},{"year":2017,"month":4,"date":1,"utc":true},{"year":2017,"month":5,"date":1,"utc":true},{"year":2017,"month":6,"date":1,"utc":true},{"year":2017,"month":7,"date":1,"utc":true},{"year":2017,"month":8,"date":1,"utc":true},{"year":2017,"month":9,"date":1,"utc":true},{"year":2017,"month":10,"date":1,"utc":true},{"year":2017,"month":11,"date":1,"utc":true},{"year":2017,"month":12,"date":1,"utc":true},{"year":2018,"month":1,"date":1,"utc":true},{"year":2018,"month":2,"date":1,"utc":true}]}},
            "y": {"datum": 1935.77, "type": "quantitative", "scale": {"domain": [1939.5, 1968.4], "zero": false, "nice": false}, "axis": {"title": null, "orient": "right", "values": [1945, 1950, 1955, 1960, 1965], "format": "d", "labelExpr": "datum.value % 10 == 0 ? datum.label : ''", "labelOverlap": false, "labelBound": false, "tickSize": 4, "labelPadding": 2, "grid": true, "domain": true, "ticks": true, "gridOpacity": {"condition": {"test": "datum.value % 10 == 0", "value": 1}, "value": 0}}},
            "y2": {"datum": 1932.51}
          }
        },
        {
          "data": {"values": [{"t": "2017", "d": "2017-07-24"}, {"t": "2018", "d": "2018-01-26"}]},
          "mark": {"type": "text", "align": "center", "baseline": "middle", "font": "DejaVu Sans Condensed", "fontSize": 12, "color": "#e6e6e6"},
          "encoding": {
            "x": {"field": "d", "type": "temporal", "scale": {"type": "utc", "domain": [{"year": 2017, "month": 2, "date": 14, "utc": true}, {"year": 2018, "month": 2, "date": 20, "utc": true}]}, "axis": {"title": null, "orient": "bottom", "grid": true, "domain": true, "ticks": true, "labelExpr": "utcFormat(datum.value, '%b')", "tickSize": 3, "labelPadding": 2, "labelFlush": false, "labelOverlap": false, "labelBound": false, "labelOffset": {"condition": {"test": "utcmonth(datum.value) == 1", "value": 17}, "value": 26}, "values": [{"year":2017,"month":3,"date":1,"utc":true},{"year":2017,"month":4,"date":1,"utc":true},{"year":2017,"month":5,"date":1,"utc":true},{"year":2017,"month":6,"date":1,"utc":true},{"year":2017,"month":7,"date":1,"utc":true},{"year":2017,"month":8,"date":1,"utc":true},{"year":2017,"month":9,"date":1,"utc":true},{"year":2017,"month":10,"date":1,"utc":true},{"year":2017,"month":11,"date":1,"utc":true},{"year":2017,"month":12,"date":1,"utc":true},{"year":2018,"month":1,"date":1,"utc":true},{"year":2018,"month":2,"date":1,"utc":true}]}},
            "y": {"datum": 1934.02, "type": "quantitative", "scale": {"domain": [1939.5, 1968.4], "zero": false, "nice": false}, "axis": {"title": null, "orient": "right", "values": [1945, 1950, 1955, 1960, 1965], "format": "d", "labelExpr": "datum.value % 10 == 0 ? datum.label : ''", "labelOverlap": false, "labelBound": false, "tickSize": 4, "labelPadding": 2, "grid": true, "domain": true, "ticks": true, "gridOpacity": {"condition": {"test": "datum.value % 10 == 0", "value": 1}, "value": 0}}},
            "text": {"field": "t"}
          }
        },
        {
          "data": {"values": [{"t": "Source: Bloomberg"}]},
          "mark": {"type": "text", "align": "left", "baseline": "alphabetic", "dx": 3, "font": "DejaVu Sans", "fontWeight": "bold", "fontSize": 10, "color": "#ffffff"},
          "encoding": {
            "x": {"datum": {"year": 2017, "month": 2, "date": 14, "utc": true}, "type": "temporal", "scale": {"type": "utc", "domain": [{"year": 2017, "month": 2, "date": 14, "utc": true}, {"year": 2018, "month": 2, "date": 20, "utc": true}]}, "axis": {"title": null, "orient": "bottom", "grid": true, "domain": true, "ticks": true, "labelExpr": "utcFormat(datum.value, '%b')", "tickSize": 3, "labelPadding": 2, "labelFlush": false, "labelOverlap": false, "labelBound": false, "labelOffset": {"condition": {"test": "utcmonth(datum.value) == 1", "value": 17}, "value": 26}, "values": [{"year":2017,"month":3,"date":1,"utc":true},{"year":2017,"month":4,"date":1,"utc":true},{"year":2017,"month":5,"date":1,"utc":true},{"year":2017,"month":6,"date":1,"utc":true},{"year":2017,"month":7,"date":1,"utc":true},{"year":2017,"month":8,"date":1,"utc":true},{"year":2017,"month":9,"date":1,"utc":true},{"year":2017,"month":10,"date":1,"utc":true},{"year":2017,"month":11,"date":1,"utc":true},{"year":2017,"month":12,"date":1,"utc":true},{"year":2018,"month":1,"date":1,"utc":true},{"year":2018,"month":2,"date":1,"utc":true}]}},
            "y": {"datum": 1929.64, "type": "quantitative", "scale": {"domain": [1939.5, 1968.4], "zero": false, "nice": false}, "axis": {"title": null, "orient": "right", "values": [1945, 1950, 1955, 1960, 1965], "format": "d", "labelExpr": "datum.value % 10 == 0 ? datum.label : ''", "labelOverlap": false, "labelBound": false, "tickSize": 4, "labelPadding": 2, "grid": true, "domain": true, "ticks": true, "gridOpacity": {"condition": {"test": "datum.value % 10 == 0", "value": 1}, "value": 0}}},
            "text": {"field": "t"}
          }
        },
        {
          "data": {"values": [{"t": "Bloomberg"}]},
          "mark": {"type": "text", "align": "left", "baseline": "alphabetic", "dx": 1, "font": "DejaVu Sans Condensed", "fontWeight": "bold", "fontSize": 12, "color": "#ffffff"},
          "encoding": {
            "x": {"datum": {"year": 2018, "month": 2, "date": 8, "utc": true}, "type": "temporal", "scale": {"type": "utc", "domain": [{"year": 2017, "month": 2, "date": 14, "utc": true}, {"year": 2018, "month": 2, "date": 20, "utc": true}]}, "axis": {"title": null, "orient": "bottom", "grid": true, "domain": true, "ticks": true, "labelExpr": "utcFormat(datum.value, '%b')", "tickSize": 3, "labelPadding": 2, "labelFlush": false, "labelOverlap": false, "labelBound": false, "labelOffset": {"condition": {"test": "utcmonth(datum.value) == 1", "value": 17}, "value": 26}, "values": [{"year":2017,"month":3,"date":1,"utc":true},{"year":2017,"month":4,"date":1,"utc":true},{"year":2017,"month":5,"date":1,"utc":true},{"year":2017,"month":6,"date":1,"utc":true},{"year":2017,"month":7,"date":1,"utc":true},{"year":2017,"month":8,"date":1,"utc":true},{"year":2017,"month":9,"date":1,"utc":true},{"year":2017,"month":10,"date":1,"utc":true},{"year":2017,"month":11,"date":1,"utc":true},{"year":2017,"month":12,"date":1,"utc":true},{"year":2018,"month":1,"date":1,"utc":true},{"year":2018,"month":2,"date":1,"utc":true}]}},
            "y": {"datum": 1930.06, "type": "quantitative", "scale": {"domain": [1939.5, 1968.4], "zero": false, "nice": false}, "axis": {"title": null, "orient": "right", "values": [1945, 1950, 1955, 1960, 1965], "format": "d", "labelExpr": "datum.value % 10 == 0 ? datum.label : ''", "labelOverlap": false, "labelBound": false, "tickSize": 4, "labelPadding": 2, "grid": true, "domain": true, "ticks": true, "gridOpacity": {"condition": {"test": "datum.value % 10 == 0", "value": 1}, "value": 0}}},
            "text": {"field": "t"}
          }
        },
        {
          "data": {"values": [{}]},
          "mark": {"type": "point", "shape": "square", "filled": true, "opacity": 1, "size": 100, "color": "#ffffff"},
          "encoding": {
            "x": {"datum": {"year": 2018, "month": 3, "date": 28, "utc": true}, "type": "temporal", "scale": {"type": "utc", "domain": [{"year": 2017, "month": 2, "date": 14, "utc": true}, {"year": 2018, "month": 2, "date": 20, "utc": true}]}, "axis": {"title": null, "orient": "bottom", "grid": true, "domain": true, "ticks": true, "labelExpr": "utcFormat(datum.value, '%b')", "tickSize": 3, "labelPadding": 2, "labelFlush": false, "labelOverlap": false, "labelBound": false, "labelOffset": {"condition": {"test": "utcmonth(datum.value) == 1", "value": 17}, "value": 26}, "values": [{"year":2017,"month":3,"date":1,"utc":true},{"year":2017,"month":4,"date":1,"utc":true},{"year":2017,"month":5,"date":1,"utc":true},{"year":2017,"month":6,"date":1,"utc":true},{"year":2017,"month":7,"date":1,"utc":true},{"year":2017,"month":8,"date":1,"utc":true},{"year":2017,"month":9,"date":1,"utc":true},{"year":2017,"month":10,"date":1,"utc":true},{"year":2017,"month":11,"date":1,"utc":true},{"year":2017,"month":12,"date":1,"utc":true},{"year":2018,"month":1,"date":1,"utc":true},{"year":2018,"month":2,"date":1,"utc":true}]}},
            "y": {"datum": 1930.99, "type": "quantitative", "scale": {"domain": [1939.5, 1968.4], "zero": false, "nice": false}, "axis": {"title": null, "orient": "right", "values": [1945, 1950, 1955, 1960, 1965], "format": "d", "labelExpr": "datum.value % 10 == 0 ? datum.label : ''", "labelOverlap": false, "labelBound": false, "tickSize": 4, "labelPadding": 2, "grid": true, "domain": true, "ticks": true, "gridOpacity": {"condition": {"test": "datum.value % 10 == 0", "value": 1}, "value": 0}}}
          }
        }
      ]
    }
  ],
  "config": {
    "view": {"stroke": null},
    "font": "DejaVu Sans",
    "axis": {
      "gridColor": "#8a8a8a", "gridDash": [2, 2], "gridWidth": 1, "gridOpacity": 1, "labelOverlap": false,
      "domainColor": "#b4b4b4", "domainWidth": 1.5, "tickColor": "#b4b4b4", "tickWidth": 1,
      "labelColor": "#e6e6e6", "labelFont": "DejaVu Sans Condensed", "labelFontSize": 12
    }
  }
}
